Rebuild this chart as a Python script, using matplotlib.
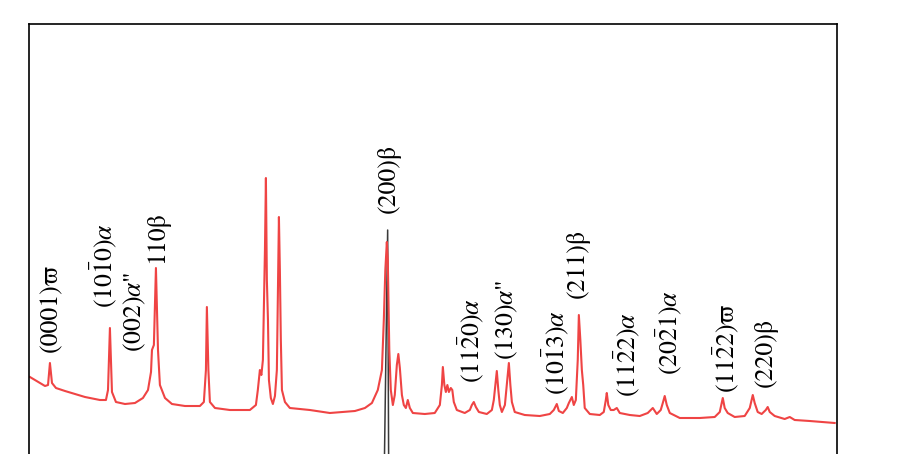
import matplotlib
matplotlib.use("Agg")
import matplotlib.pyplot as plt

plt.rcParams['font.family'] = ['STIXGeneral', 'DejaVu Serif']
plt.rcParams['mathtext.fontset'] = 'stix'

# 2theta (deg) and intensity (a.u.) of the red pattern
two_theta_red = [
    29.37, 29.74, 30.10, 30.47, 30.69, 30.83, 30.98, 31.27, 31.93, 32.66, 33.39, 34.48,
    34.92, 35.07, 35.21, 35.36, 35.65, 36.31, 37.04, 37.62, 37.99, 38.21, 38.28, 38.42,
    38.57, 38.72, 38.86, 39.23, 39.74, 40.69, 41.78, 42.07, 42.22, 42.29, 42.40, 42.51,
    42.88, 43.97, 45.43, 45.87, 46.01, 46.16, 46.27, 46.38, 46.53, 46.60, 46.67, 46.75,
    46.82, 46.96, 47.11, 47.26, 47.40, 47.48, 47.55, 47.62, 47.69, 47.77, 47.99, 48.35,
    49.81, 51.27, 53.10, 53.83, 54.34, 54.77, 55.07, 55.21, 55.32, 55.43, 55.50, 55.61,
    55.72, 55.87, 56.01, 56.16, 56.27, 56.38, 56.53, 56.67, 56.82, 56.96, 57.11, 57.33,
    58.20, 58.93, 59.30, 59.45, 59.52, 59.63, 59.74, 59.85, 59.96, 60.10, 60.21, 60.32,
    60.54, 61.12, 61.49, 61.64, 61.78, 61.93, 62.15, 62.73, 63.10, 63.24, 63.35, 63.46,
    63.57, 63.68, 63.83, 64.05, 64.19, 64.34, 64.45, 64.56, 64.77, 65.50, 66.60, 67.33,
    67.62, 67.84, 67.99, 68.28, 68.57, 68.72, 68.94, 69.08, 69.23, 69.37, 69.45, 69.56,
    69.67, 69.77, 69.88, 70.25, 70.98, 71.27, 71.42, 71.49, 71.60, 71.78, 72.00, 72.22,
    72.44, 73.17, 73.90, 74.48, 74.85, 75.14, 75.43, 75.58, 75.72, 75.87, 76.09, 76.82,
    78.28, 79.37, 79.74, 79.96, 80.10, 80.32, 80.83, 81.56, 81.93, 82.15, 82.29, 82.51,
    82.80, 83.10, 83.24, 83.39, 83.75, 84.48, 84.85, 85.21, 86.31, 88.13,
]
intensity_red = [
    77, 74, 71, 68, 69, 91, 71, 66, 63, 60, 57, 54,
    54, 64, 126, 62, 52, 50, 51, 56, 64, 82, 104, 109,
    186, 104, 69, 56, 50, 48, 48, 52, 84, 147, 84, 52,
    46, 44, 44, 49, 64, 84, 79, 94, 204, 276, 174, 134,
    74, 56, 50, 58, 84, 164, 237, 184, 114, 64, 52, 46,
    44, 41, 43, 46, 51, 64, 84, 134, 184, 212, 194, 104,
    64, 49, 59, 89, 100, 86, 59, 49, 46, 54, 46, 41,
    40, 41, 49, 69, 87, 69, 62, 69, 62, 66, 64, 52,
    44, 41, 44, 49, 52, 47, 42, 40, 44, 54, 69, 83,
    64, 49, 42, 49, 69, 91, 69, 52, 42, 39, 38, 40,
    44, 50, 43, 41, 46, 51, 57, 49, 54, 94, 139, 114,
    84, 69, 46, 40, 39, 42, 54, 61, 49, 44, 44, 46,
    41, 39, 38, 41, 46, 40, 44, 51, 58, 49, 41, 36,
    36, 37, 42, 56, 46, 41, 37, 38, 46, 59, 51, 42,
    40, 44, 47, 42, 38, 35, 37, 34, 33, 31,
]

# black pattern: only its (200) peak reaches the visible window
two_theta_black = [29.37, 54.92, 55.21, 55.26, 55.49, 55.56, 55.60, 56.01, 88.13]
intensity_black = [-150, -150, -20, 0, 224, 0, -20, -150, -150]

# peak labels: text, 2theta position, intensity at the text foot
peak_labels = [
    r"(0001)ϖ", r"(10$\bar{1}$0)$\alpha$", r'(002)$\alpha$"', r"110β", r"(200)β",
    r"(11$\bar{2}$0)$\alpha$", r'(130)$\alpha$"', r"(10$\bar{1}$3)$\alpha$", r"(211)β",
    r"(11$\bar{2}$2)$\alpha$", r"(20$\bar{2}$1)$\alpha$", r"(11$\bar{2}$2)ϖ", r"(220)β",
]
label_theta = [30.91, 34.77, 37.04, 38.64, 55.58, 61.56, 64.19, 67.77, 69.37, 72.95, 76.02, 80.18, 83.10]
label_height = [102, 146, 102, 191, 241, 71, 94, 59, 156, 57, 79, 61, 67]

fig = plt.figure(figsize=(9, 4.54), dpi=100)
ax = fig.add_axes([0.0322, -0.0881, 0.8978, 1.0352])

ax.plot(two_theta_black, intensity_black, color='#3a3a3a', lw=1.1)
ax.plot(two_theta_red, intensity_red, color='#ef4444', lw=1.5)

for txt, xt, yt in zip(peak_labels, label_theta, label_height):
    ax.text(xt, yt, txt, rotation=90, ha='center', va='bottom', fontsize=18.5, color='black')

ax.set_xlim(29.3, 88.3)
ax.set_ylim(-40, 430)
ax.set_xticks([])
ax.set_yticks([])
for s in ax.spines.values():
    s.set_linewidth(1.2)
    s.set_color('black')

fig.savefig("out.png", dpi=100)
